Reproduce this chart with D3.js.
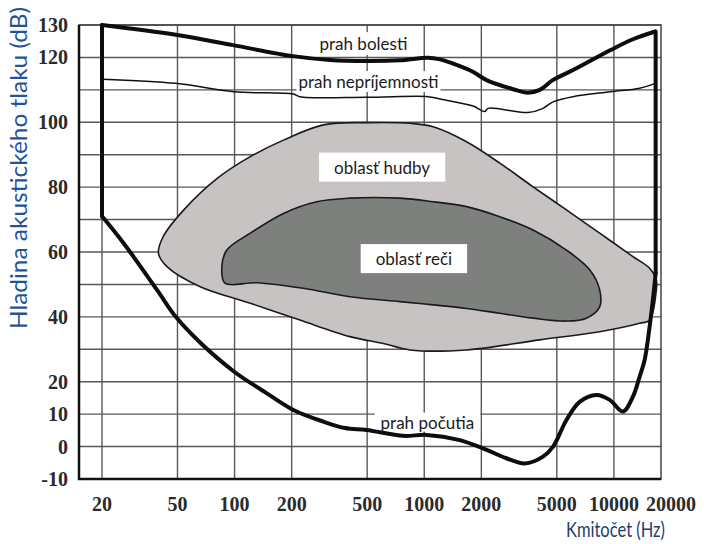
<!DOCTYPE html>
<html>
<head>
<meta charset="utf-8">
<script src="https://cdn.jsdelivr.net/npm/d3@7"></script>
<style>
  html, body { margin: 0; padding: 0; background: #fff; }
  svg { display: block; }
</style>
</head>
<body>
<svg id="chart" width="704" height="544"></svg>
<script>
// Frequency ticks (Hz) and level ticks (dB)
const freqTicks = [20, 50, 100, 200, 500, 1000, 2000, 5000, 10000, 20000];
const levelTicks = [130, 120, 100, 80, 60, 40, 20, 10, 0, -10];
const gridLevels = [-10, 0, 10, 20, 30, 40, 50, 60, 70, 80, 90, 100, 110, 120, 130];

// Threshold of pain [Hz, dB]
const painThreshold = [[20,130],[49,127],[98,123.8],[203,120.4],[319,119.2],[497,118.9],[744,119.1],
  [1046,119.9],[1209,119.4],[1481,117.7],[1804,115.6],[2130,113],[2942,110.2],[3514,109.1],[4066,110],
  [4758,113],[6087,116.1],[9616,122.3],[12600,125.6],[16500,128]];

// Threshold of discomfort [Hz, dB]
const discomfortThreshold = [[20,113.3],[49,112],[99,109.4],[204,108.7],[221,107.9],[497,107.7],
  [1047,107.9],[1209,107.2],[1811,105],[2089,103.3],[2171,104.3],[3527,103],[4231,104.3],[4776,106.3],
  [6087,107.9],[9575,109.4],[13670,110.5],[16500,112]];

// Threshold of hearing [Hz, dB]
const hearingThreshold = [[20,71],[26,62.7],[39,48.3],[49,40],[66,32],[100,23],[148,16.4],[204,11.3],
  [294,7.7],[382,5.7],[497,5.1],[775,3.3],[1030,3.6],[1540,2],[2130,-1],[2710,-3.6],[3390,-5.2],
  [4230,-3.1],[4780,0],[5620,8.2],[6600,13.8],[8090,15.9],[9500,14.4],[11160,10.8],[12600,15.4],
  [13670,21.6],[14520,26.7],[15430,37],[16200,47.4],[16600,53.5]];

// Straight edges closing the audible area
const lowEdge = [[20,71],[20,130]];
const highEdge = [[16600,53.5],[16600,128]];

// Music area outline [Hz, dB]
const musicArea = [[39.7,59.6],[42,64.7],[54,73],[81,82.7],[121,89.4],[181,94.5],[294,99.2],[497,99.9],
  [840,99.7],[1115,98.6],[1671,94],[2503,87.4],[3748,80.1],[5620,73],[8414,65.8],[12600,58.6],
  [15430,55],[16735,51.4],[16735,48.3],[15430,39],[13670,38],[8414,35.4],[4066,32.9],[1671,29.8],
  [840,29.8],[608,31.8],[406,33.9],[221,39],[121,44.2],[65.9,49.3],[44,55.5]];

// Speech area outline [Hz, dB]
const speechArea = [[85.7,55.5],[91,60.6],[121,65.8],[181,71.9],[271,75.5],[406,76.6],[744,76.6],
  [1115,75.5],[1671,74],[2503,70.9],[3748,66.8],[5620,60.6],[7455,54.5],[8414,48.3],[8414,43.1],
  [7160,39.6],[5620,38.7],[3748,39.6],[2503,41.1],[1671,42.6],[1115,43.7],[744,44.7],[406,46.2],
  [230,48.8],[131,50.5],[89,50.4]];

// Annotation labels [text, Hz, dB]
const labelTexts = ["prah bolesti", "prah nepríjemnosti", "oblasť hudby", "oblasť reči", "prah počutia"];
const labelFreqs = [478, 508, 599, 882, 1039];
const labelLevels = [124.1, 112.4, 86, 57.8, 7.4];

// ---- layout ----
const frameBox = { left: 79, right: 661, top: 25, bottom: 479 };
const svg = d3.select("#chart");

const x = d3.scaleLog().domain([20, 20000]).range([102, 671]);
const y = d3.scaleLinear().domain([-10, 130]).range([frameBox.bottom, frameBox.top]);

// grid
const gridLayer = svg.append("g").attr("class", "grid");
gridLayer.selectAll("line.vgrid")
  .data(freqTicks.filter(f => x(f) < frameBox.right - 2))
  .join("line").attr("class", "vgrid")
  .attr("x1", d => x(d)).attr("x2", d => x(d))
  .attr("y1", frameBox.top).attr("y2", frameBox.bottom)
  .style("stroke", "#585858").style("stroke-width", "1.4px");
gridLayer.selectAll("line.hgrid")
  .data(gridLevels)
  .join("line").attr("class", "hgrid")
  .attr("x1", frameBox.left).attr("x2", frameBox.right)
  .attr("y1", d => y(d)).attr("y2", d => y(d))
  .style("stroke", "#585858").style("stroke-width", "1.4px");

// areas
const closed = d3.line().x(d => x(d[0])).y(d => y(d[1])).curve(d3.curveCatmullRomClosed.alpha(0.5));
svg.append("path").attr("d", closed(musicArea))
  .attr("fill", "#c7c3c2").attr("stroke", "#1a1a1a").attr("stroke-width", 1.6);
svg.append("path").attr("d", closed(speechArea))
  .attr("fill", "#7e807d").attr("stroke", "#1a1a1a").attr("stroke-width", 1.6);

// frame
svg.append("rect").attr("x", frameBox.left).attr("y", frameBox.top)
  .attr("width", frameBox.right - frameBox.left).attr("height", frameBox.bottom - frameBox.top)
  .attr("fill", "none").attr("stroke", "#444").attr("stroke-width", 1.5);
svg.append("path")
  .attr("d", `M${frameBox.left},${frameBox.top}V${frameBox.bottom}H${frameBox.right}`)
  .attr("fill", "none").attr("stroke", "#111").attr("stroke-width", 2.5);

// annotation labels: white boxes below the curves, text on top
const boxLayer = svg.append("g");
const curveLayer = svg.append("g");
const textLayer = svg.append("g");
const padX = [4, 2, 15, 15, 6];
const padY = [1, 0, 4, 4, -1];
labelTexts.forEach((t, i) => {
  const txt = textLayer.append("text")
    .attr("x", x(labelFreqs[i])).attr("y", y(labelLevels[i])).attr("dy", "0.35em")
    .attr("text-anchor", "middle").attr("font-family", "Lato, 'Open Sans', sans-serif")
    .attr("font-size", 17).attr("fill", "#1b1b22").text(t);
  const b = txt.node().getBBox();
  boxLayer.append("rect").attr("fill", "#fff")
    .attr("x", b.x - padX[i]).attr("y", b.y - padY[i])
    .attr("width", b.width + 2 * padX[i]).attr("height", b.height + 2 * padY[i]);
});

// threshold curves
const open = d3.line().x(d => x(d[0])).y(d => y(d[1])).curve(d3.curveCatmullRom.alpha(0.5));
const straight = d3.line().x(d => x(d[0])).y(d => y(d[1]));

curveLayer.append("path").attr("d", open(discomfortThreshold))
  .attr("fill", "none").attr("stroke", "#111").attr("stroke-width", 1.5);

const thick = curveLayer.append("g").attr("fill", "none").attr("stroke", "#0d0d0d")
  .attr("stroke-width", 4).attr("stroke-linecap", "round").attr("stroke-linejoin", "round");
thick.append("path").attr("d", open(painThreshold));
thick.append("path").attr("d", open(hearingThreshold));
thick.append("path").attr("d", straight(lowEdge));
thick.append("path").attr("d", straight(highEdge));

// tick labels
const tickFont = "'Liberation Serif', 'Times New Roman', serif";
svg.append("g").selectAll("text").data(levelTicks).join("text")
  .attr("x", 68).attr("y", d => y(d)).attr("dy", "0.35em")
  .attr("text-anchor", "end").attr("font-family", tickFont).attr("font-weight", "bold")
  .attr("font-size", 20).attr("fill", "#2b2b2b").text(d => d);
svg.append("g").selectAll("text").data(freqTicks).join("text")
  .attr("x", d => x(d)).attr("y", 511)
  .attr("text-anchor", "middle").attr("font-family", tickFont).attr("font-weight", "bold")
  .attr("font-size", 20).attr("fill", "#2b2b2b").text(d => d);

// axis titles
svg.append("text")
  .attr("transform", "translate(27,168) rotate(-90)")
  .attr("text-anchor", "middle").attr("font-family", "Lato, 'Open Sans', sans-serif")
  .attr("font-size", 23).attr("fill", "#1f5597")
  .attr("textLength", 322).attr("lengthAdjust", "spacingAndGlyphs")
  .text("Hladina akustického tlaku  (dB)");
svg.append("text")
  .attr("x", 566).attr("y", 537)
  .attr("font-family", "Lato, 'Open Sans', sans-serif")
  .attr("font-size", 22).attr("fill", "#24406e")
  .attr("textLength", 99).attr("lengthAdjust", "spacingAndGlyphs")
  .text("Kmitočet (Hz)");
</script>
</body>
</html>
